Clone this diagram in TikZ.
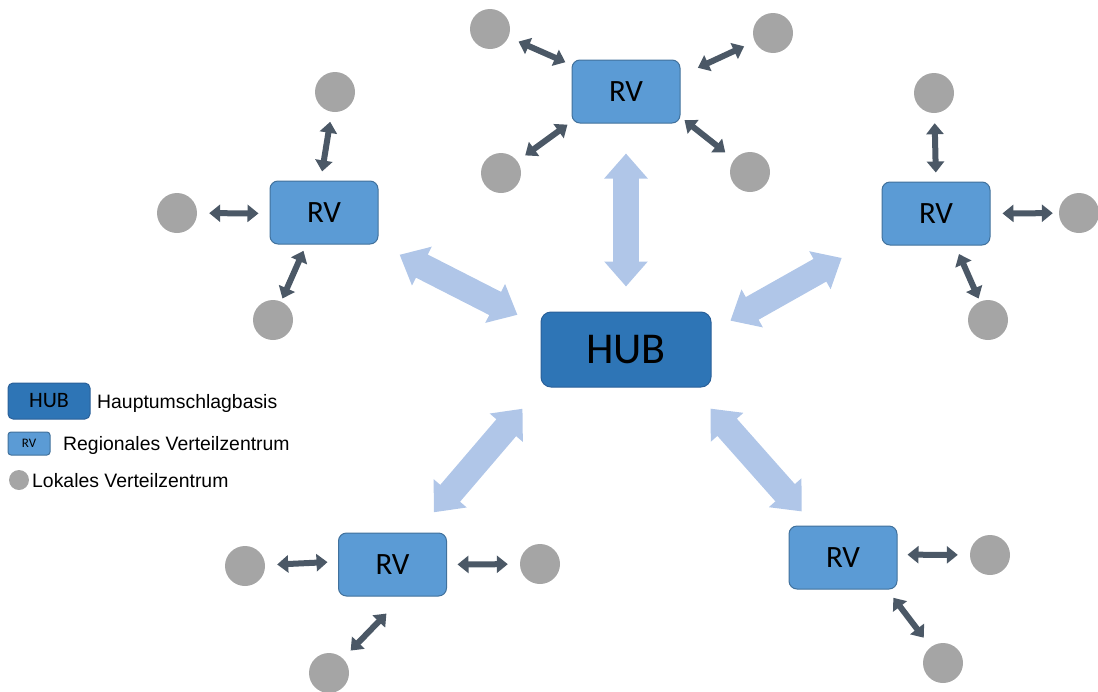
\documentclass[tikz,border=0pt]{standalone}
\usepackage{fontspec}
\setmainfont{Liberation Sans}
\newfontfamily\boxfont{Carlito}
\usetikzlibrary{arrows.meta}
\definecolor{rvfill}{HTML}{5B9BD5}
\definecolor{rvline}{HTML}{41719C}
\definecolor{hubfill}{HTML}{2E75B6}
\definecolor{hubline}{HTML}{2A6099}
\definecolor{lvfill}{HTML}{A5A5A5}
\definecolor{linkc}{HTML}{4B5866}
\definecolor{trunkc}{HTML}{B0C6E8}

\begin{document}
\begin{tikzpicture}[x=1pt,y=-1pt,
  rv/.style={draw=rvline, line width=1pt, fill=rvfill, rounded corners=8pt,
    minimum width=108pt, minimum height=63pt, inner sep=0pt,
    font=\boxfont\fontsize{31}{31}\selectfont},
  hub/.style={draw=hubline, line width=1pt, fill=hubfill, rounded corners=10pt,
    minimum width=170pt, minimum height=75pt, inner sep=0pt,
    font=\boxfont\fontsize{44}{44}\selectfont},
  lv/.style={circle, fill=lvfill, minimum size=40pt, inner sep=0pt},
  link/.style={draw=linkc, line width=6pt, >={Triangle[length=11pt,width=17pt]}, <->},
  trunk/.style={draw=trunkc, line width=26pt, >={Triangle[length=25pt,width=42pt]}, <->},
  legtext/.style={anchor=base west, inner sep=0pt, font=\fontsize{19.4}{19.4}\selectfont}]

\useasboundingbox (0,0) rectangle (1098,691);

% central hub and regional centres
\node[hub] (hub) at (626,349.5) {HUB};
\node[rv] (rvT)  at (626,91.5)  {RV};
\node[rv] (rvL)  at (324,212.5) {RV};
\node[rv] (rvR)  at (936,213.5) {RV};
\node[rv] (rvBL) at (392.5,564.5) {RV};
\node[rv] (rvBR) at (843,557.5) {RV};

% local centres
\node[lv] (T1) at (490,29) {};
\node[lv] (T2) at (773,33) {};
\node[lv] (T3) at (501,173) {};
\node[lv] (T4) at (750,172) {};
\node[lv] (L1) at (335,92) {};
\node[lv] (L2) at (177,213) {};
\node[lv] (L3) at (273,320) {};
\node[lv] (R1) at (934,93) {};
\node[lv] (R2) at (1079,213) {};
\node[lv] (R3) at (988,320) {};
\node[lv] (BL1) at (245,566) {};
\node[lv] (BL2) at (540,564) {};
\node[lv] (BL3) at (329,673) {};
\node[lv] (BR1) at (990,555) {};
\node[lv] (BR2) at (943,663) {};

% trunk lines between hub and regional centres
\draw[trunk, shorten <=30pt, shorten >=25pt] (rvT.south) -- (hub.north);
\draw[trunk, shorten <=23.7pt, shorten >=25.9pt] (rvL.-30.3) -- (hub.165.7);
\draw[trunk, shorten <=45.7pt, shorten >=21.7pt] (rvR.202.5) -- (hub.12.6);
\draw[trunk, shorten <=26.6pt, shorten >=27.9pt] (rvBL.53.9) -- (hub.204.4);
\draw[trunk, shorten <=18.8pt, shorten >=28.2pt] (rvBR.132.1) -- (hub.-30.3);

% links between regional and local centres
\draw[link, shorten <=6.7pt, shorten >=11pt]   (rvT.154.6) -- (T1);
\draw[link, shorten <=19.2pt, shorten >=11.6pt] (rvT.16.1) -- (T2);
\draw[link, shorten <=5pt, shorten >=9.7pt]    (rvT.209.5) -- (T3);
\draw[link, shorten <=5.1pt, shorten >=11.4pt] (rvT.-25.1) -- (T4);

\draw[link, shorten <=9.2pt, shorten >=10pt]  (rvL.96.9) -- (L1);
\draw[link, shorten <=11pt, shorten >=12pt]   (rvL.181.6) -- (L2);
\draw[link, shorten <=6.9pt, shorten >=3.3pt] (rvL.-119.3) -- (L3);

\draw[link, shorten <=9pt, shorten >=10pt]    (rvR.90) -- (R1);
\draw[link, shorten <=12pt, shorten >=6pt]    (rvR.0) -- (R2);
\draw[link, shorten <=9.3pt, shorten >=3.2pt] (rvR.-59.8) -- (R3);

\draw[link, shorten <=10.5pt, shorten >=12pt] (rvBL.177.3) -- (BL1);
\draw[link, shorten <=10.5pt, shorten >=12pt] (rvBL.0) -- (BL2);
\draw[link, shorten <=23.7pt, shorten >=11pt] (rvBL.-72.4) -- (BL3);

\draw[link, shorten <=10pt, shorten >=12pt]     (rvBR.3.7) -- (BR1);
\draw[link, shorten <=10.4pt, shorten >=11.6pt] (rvBR.-36.6) -- (BR2);

% legend
\node[hub, minimum width=82pt, minimum height=36pt, rounded corners=5pt,
      font=\boxfont\fontsize{22}{22}\selectfont] (legHub) at (49,401) {HUB};
\node[legtext] (legHubText) at (97,408) {Hauptumschlagbasis};
\node[rv, minimum width=42pt, minimum height=23pt, rounded corners=3pt,
      font=\boxfont\fontsize{13}{13}\selectfont] (legRv) at (29,443.5) {RV};
\node[legtext] (legRvText) at (63,450) {Regionales Verteilzentrum};
\node[lv, minimum size=20pt] (legLv) at (19,480) {};
\node[legtext] (legLvText) at (32,487) {Lokales Verteilzentrum};
\end{tikzpicture}
\end{document}
